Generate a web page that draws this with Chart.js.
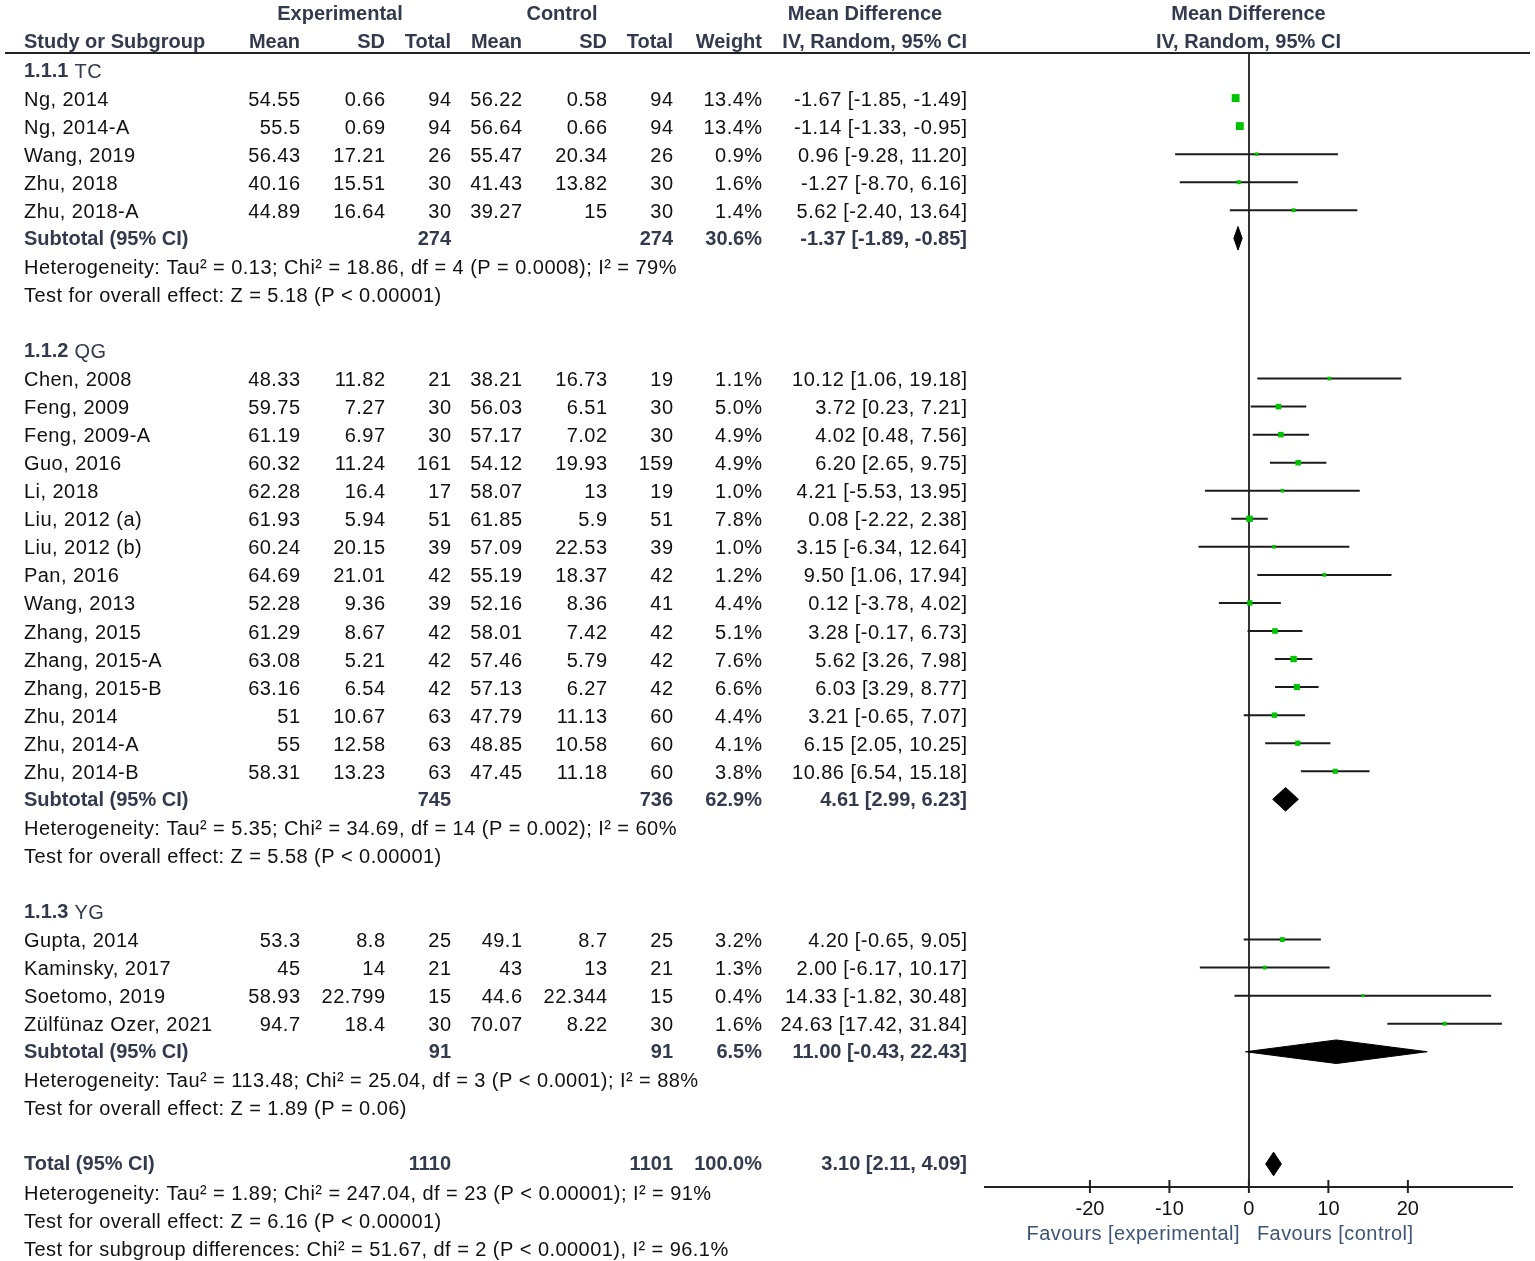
<!DOCTYPE html>
<html><head><meta charset="utf-8">
<script src="https://cdn.jsdelivr.net/npm/chart.js@4.4.1/dist/chart.umd.min.js"></script>
<style>html,body{margin:0;padding:0;background:#fff;}#wrap{width:1535px;height:1261px;position:relative;}</style>
</head><body><div id="wrap"><canvas id="c"></canvas></div>
<script>
// ---------- DATA ----------
const groupLabels = ['1.1.1 TC', '1.1.2 QG', '1.1.3 YG'];
const studyNames = ['Ng, 2014','Ng, 2014-A','Wang, 2019','Zhu, 2018','Zhu, 2018-A',
  'Chen, 2008','Feng, 2009','Feng, 2009-A','Guo, 2016','Li, 2018','Liu, 2012 (a)','Liu, 2012 (b)','Pan, 2016','Wang, 2013','Zhang, 2015','Zhang, 2015-A','Zhang, 2015-B','Zhu, 2014','Zhu, 2014-A','Zhu, 2014-B',
  'Gupta, 2014','Kaminsky, 2017','Soetomo, 2019','Zülfünaz Ozer, 2021'];
const studyGroup = [0,0,0,0,0, 1,1,1,1,1,1,1,1,1,1,1,1,1,1,1, 2,2,2,2];
const expMean  = [54.55,55.5,56.43,40.16,44.89, 48.33,59.75,61.19,60.32,62.28,61.93,60.24,64.69,52.28,61.29,63.08,63.16,51,55,58.31, 53.3,45,58.93,94.7];
const expSD    = [0.66,0.69,17.21,15.51,16.64, 11.82,7.27,6.97,11.24,16.4,5.94,20.15,21.01,9.36,8.67,5.21,6.54,10.67,12.58,13.23, 8.8,14,22.799,18.4];
const expTotal = [94,94,26,30,30, 21,30,30,161,17,51,39,42,39,42,42,42,63,63,63, 25,21,15,30];
const ctlMean  = [56.22,56.64,55.47,41.43,39.27, 38.21,56.03,57.17,54.12,58.07,61.85,57.09,55.19,52.16,58.01,57.46,57.13,47.79,48.85,47.45, 49.1,43,44.6,70.07];
const ctlSD    = [0.58,0.66,20.34,13.82,15, 16.73,6.51,7.02,19.93,13,5.9,22.53,18.37,8.36,7.42,5.79,6.27,11.13,10.58,11.18, 8.7,13,22.344,8.22];
const ctlTotal = [94,94,26,30,30, 19,30,30,159,19,51,39,42,41,42,42,42,60,60,60, 25,21,15,30];
const weightPct = [13.4,13.4,0.9,1.6,1.4, 1.1,5.0,4.9,4.9,1.0,7.8,1.0,1.2,4.4,5.1,7.6,6.6,4.4,4.1,3.8, 3.2,1.3,0.4,1.6];
const mdEst = [-1.67,-1.14,0.96,-1.27,5.62, 10.12,3.72,4.02,6.20,4.21,0.08,3.15,9.50,0.12,3.28,5.62,6.03,3.21,6.15,10.86, 4.20,2.00,14.33,24.63];
const mdLo  = [-1.85,-1.33,-9.28,-8.70,-2.40, 1.06,0.23,0.48,2.65,-5.53,-2.22,-6.34,1.06,-3.78,-0.17,3.26,3.29,-0.65,2.05,6.54, -0.65,-6.17,-1.82,17.42];
const mdHi  = [-1.49,-0.95,11.20,6.16,13.64, 19.18,7.21,7.56,9.75,13.95,2.38,12.64,17.94,4.02,6.73,7.98,8.77,7.07,10.25,15.18, 9.05,10.17,30.48,31.84];

const subExpTotal = [274,745,91];
const subCtlTotal = [274,736,91];
const subWeight = [30.6,62.9,6.5];
const subEst = [-1.37,4.61,11.00];
const subLo  = [-1.89,2.99,-0.43];
const subHi  = [-0.85,6.23,22.43];
const subHet = [
  'Heterogeneity: Tau² = 0.13; Chi² = 18.86, df = 4 (P = 0.0008); I² = 79%',
  'Heterogeneity: Tau² = 5.35; Chi² = 34.69, df = 14 (P = 0.002); I² = 60%',
  'Heterogeneity: Tau² = 113.48; Chi² = 25.04, df = 3 (P < 0.0001); I² = 88%'];
const subEffect = [
  'Test for overall effect: Z = 5.18 (P < 0.00001)',
  'Test for overall effect: Z = 5.58 (P < 0.00001)',
  'Test for overall effect: Z = 1.89 (P = 0.06)'];

const totalExp = 1110, totalCtl = 1101, totalWeight = 100.0;
const totalEst = 3.10, totalLo = 2.11, totalHi = 4.09;
const totalNotes = [
  'Heterogeneity: Tau² = 1.89; Chi² = 247.04, df = 23 (P < 0.00001); I² = 91%',
  'Test for overall effect: Z = 6.16 (P < 0.00001)',
  'Test for subgroup differences: Chi² = 51.67, df = 2 (P < 0.00001), I² = 96.1%'];

const xTicks = [-20,-10,0,10,20];
const favourLeft = 'Favours [experimental]';
const favourRight = 'Favours [control]';

// ---------- ROW LAYOUT (built from data) ----------
const studyRow = [], subRow = [], rowsText = [];
let r = 0;
groupLabels.forEach((g, gi) => {
  rowsText.push({row: r++, kind: 'group', text: g});
  studyNames.forEach((n, i) => { if (studyGroup[i] === gi) { studyRow[i] = r; rowsText.push({row: r++, kind: 'study', i}); } });
  subRow[gi] = r; rowsText.push({row: r++, kind: 'sub', gi});
  rowsText.push({row: r++, kind: 'note', text: subHet[gi]});
  rowsText.push({row: r++, kind: 'note', text: subEffect[gi]});
  r++;
});
const totalRow = r;
rowsText.push({row: r++, kind: 'total'});
totalNotes.forEach(t => rowsText.push({row: r++, kind: 'note', text: t}));

// ---------- STYLE ----------
const FONT = '"Liberation Sans", Arial, sans-serif';
const FS = 20;
const BOLDC = '#333a4c';
const TXT = '#111';
const COL = {name: 24, mean: 300, sd: 385, tot: 451, cmean: 522, csd: 607, ctot: 673, wt: 762, ci: 967};
const fmtCI = (e, l, h) => `${e.toFixed(2)} [${l.toFixed(2)}, ${h.toFixed(2)}]`;

// ---------- DATASETS ----------
const ciLine = [];
studyNames.forEach((n, i) => {
  ciLine.push({x: mdLo[i], y: studyRow[i]}, {x: mdHi[i], y: studyRow[i]}, {x: null, y: null});
});
const squares = studyNames.map((n, i) => ({x: mdEst[i], y: studyRow[i]}));
const squareR = weightPct.map(w => (2 + 1.6 * Math.sqrt(w)) / Math.SQRT2);
const DH = 0.42;
function diamond(e, l, h, row) {
  return [{x: l, y: row}, {x: e, y: row - DH}, {x: h, y: row}, {x: e, y: row + DH}, {x: l, y: row}];
}
const diamonds = subEst.map((e, gi) => diamond(e, subLo[gi], subHi[gi], subRow[gi]));
diamonds.push(diamond(totalEst, totalLo, totalHi, totalRow));

const datasets = [
  {type: 'scatter', data: squares, pointStyle: 'rect', pointRadius: squareR, backgroundColor: '#00c400', borderWidth: 0, order: 0},
  {type: 'line', data: ciLine, borderColor: '#1c1c1c', borderWidth: 2, pointRadius: 0, spanGaps: false, fill: false, tension: 0, order: 2},
  ...diamonds.map(d => ({type: 'line', data: d, borderColor: '#000', backgroundColor: '#000', borderWidth: 1, pointRadius: 0, fill: 'shape', tension: 0, order: 1}))
];

// ---------- TABLE PLUGIN ----------
const tablePlugin = {
  id: 'forestTable',
  afterDraw(chart) {
    const ctx = chart.ctx, ys = chart.scales.y, xs = chart.scales.x, ca = chart.chartArea;
    const Y = row => ys.getPixelForValue(row);
    const T = (s, x, row, align, bold, color) => {
      ctx.font = (bold ? 'bold ' : '') + FS + 'px ' + FONT;
      ctx.letterSpacing = bold ? '0px' : '0.45px';
      ctx.textAlign = align; ctx.fillStyle = color || TXT; ctx.textBaseline = 'middle';
      // letterSpacing adds trailing space; compensate for right alignment
      const dx = (!bold && align === 'right') ? 0.45 : 0;
      ctx.fillText(s, x + dx, Y(row) + (bold ? 1 : 2));
    };
    ctx.save();
    // top rule
    ctx.strokeStyle = '#222'; ctx.lineWidth = 2;
    ctx.beginPath(); ctx.moveTo(5, ca.top); ctx.lineTo(1530, ca.top); ctx.stroke();
    // headers
    const midPlot = (ca.left + ca.right) / 2;
    T('Experimental', 340, -2, 'center', true, BOLDC);
    T('Control', 562, -2, 'center', true, BOLDC);
    T('Mean Difference', 865, -2, 'center', true, BOLDC);
    T('Mean Difference', midPlot, -2, 'center', true, BOLDC);
    T('Study or Subgroup', COL.name, -1, 'left', true, BOLDC);
    T('Mean', COL.mean, -1, 'right', true, BOLDC);
    T('SD', COL.sd, -1, 'right', true, BOLDC);
    T('Total', COL.tot, -1, 'right', true, BOLDC);
    T('Mean', COL.cmean, -1, 'right', true, BOLDC);
    T('SD', COL.csd, -1, 'right', true, BOLDC);
    T('Total', COL.ctot, -1, 'right', true, BOLDC);
    T('Weight', COL.wt, -1, 'right', true, BOLDC);
    T('IV, Random, 95% CI', COL.ci, -1, 'right', true, BOLDC);
    T('IV, Random, 95% CI', midPlot, -1, 'center', true, BOLDC);
    rowsText.forEach(o => {
      if (o.kind === 'group') {
        const sp = o.text.indexOf(' ');
        const a = o.text.slice(0, sp), b = o.text.slice(sp);
        T(a, COL.name, o.row, 'left', true, BOLDC);
        ctx.font = 'bold ' + FS + 'px ' + FONT;
        ctx.letterSpacing = '0px';
        const w = ctx.measureText(a).width;
        T(b, COL.name + w, o.row, 'left', false, BOLDC);
      } else if (o.kind === 'study') {
        const i = o.i;
        T(studyNames[i], COL.name, o.row, 'left');
        T(String(expMean[i]), COL.mean, o.row, 'right');
        T(String(expSD[i]), COL.sd, o.row, 'right');
        T(String(expTotal[i]), COL.tot, o.row, 'right');
        T(String(ctlMean[i]), COL.cmean, o.row, 'right');
        T(String(ctlSD[i]), COL.csd, o.row, 'right');
        T(String(ctlTotal[i]), COL.ctot, o.row, 'right');
        T(weightPct[i].toFixed(1) + '%', COL.wt, o.row, 'right');
        T(fmtCI(mdEst[i], mdLo[i], mdHi[i]), COL.ci, o.row, 'right');
      } else if (o.kind === 'sub') {
        const g = o.gi;
        T('Subtotal (95% CI)', COL.name, o.row, 'left', true, BOLDC);
        T(String(subExpTotal[g]), COL.tot, o.row, 'right', true, BOLDC);
        T(String(subCtlTotal[g]), COL.ctot, o.row, 'right', true, BOLDC);
        T(subWeight[g].toFixed(1) + '%', COL.wt, o.row, 'right', true, BOLDC);
        T(fmtCI(subEst[g], subLo[g], subHi[g]), COL.ci, o.row, 'right', true, BOLDC);
      } else if (o.kind === 'total') {
        T('Total (95% CI)', COL.name, o.row, 'left', true, BOLDC);
        T(String(totalExp), COL.tot, o.row, 'right', true, BOLDC);
        T(String(totalCtl), COL.ctot, o.row, 'right', true, BOLDC);
        T(totalWeight.toFixed(1) + '%', COL.wt, o.row, 'right', true, BOLDC);
        T(fmtCI(totalEst, totalLo, totalHi), COL.ci, o.row, 'right', true, BOLDC);
      } else if (o.kind === 'note') {
        T(o.text, COL.name, o.row, 'left');
      }
    });
    // tick marks crossing the axis
    ctx.letterSpacing = '0px';
    ctx.strokeStyle = '#222'; ctx.lineWidth = 2;
    xs.ticks.forEach(t => {
      const px = xs.getPixelForValue(t.value);
      ctx.beginPath(); ctx.moveTo(px, ca.bottom - 7); ctx.lineTo(px, ca.bottom + 6); ctx.stroke();
    });
    // favours labels
    const zx = xs.getPixelForValue(0);
    ctx.font = FS + 'px ' + FONT; ctx.fillStyle = '#3f5474'; ctx.textBaseline = 'middle';
    ctx.letterSpacing = '0.45px';
    ctx.textAlign = 'right'; ctx.fillText(favourLeft, zx - 9, ca.bottom + 47);
    ctx.textAlign = 'left'; ctx.fillText(favourRight, zx + 8, ca.bottom + 47);
    ctx.restore();
  }
};

// ---------- CHART ----------
const Y_MIN = -0.606, ROW_PX = 28.05, PLOT_TOP = 53, AXIS_H = 74, CANVAS_H = 1261;
const Y_MAX = Y_MIN + (CANVAS_H - AXIS_H - PLOT_TOP) / ROW_PX;

new Chart(document.getElementById('c'), {
  type: 'scatter',
  data: {datasets},
  options: {
    responsive: true, maintainAspectRatio: false, animation: false, events: [],
    layout: {padding: {left: 985, right: 23, top: PLOT_TOP, bottom: 0}},
    plugins: {legend: {display: false}, tooltip: {enabled: false}},
    scales: {
      x: {
        type: 'linear', min: -33.2, max: 33.1,
        afterBuildTicks: s => { s.ticks = xTicks.map(v => ({value: v})); },
        afterFit: s => { s.height = AXIS_H; },
        border: {display: true, color: '#222', width: 2},
        grid: {drawOnChartArea: true, drawTicks: false, lineWidth: 2,
               color: c => (c.tick && c.tick.value === 0) ? '#333' : 'rgba(0,0,0,0)'},
        ticks: {padding: 10, color: '#111', font: {size: FS, family: FONT}}
      },
      y: {type: 'linear', reverse: true, min: Y_MIN, max: Y_MAX, display: false}
    }
  },
  plugins: [tablePlugin]
});
</script>
</body></html>
